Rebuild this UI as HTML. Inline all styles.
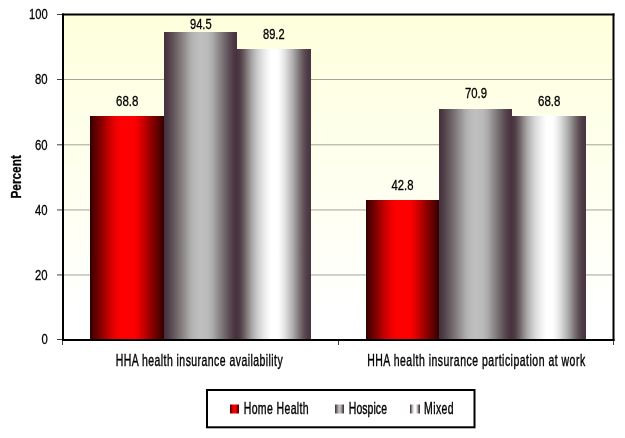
<!DOCTYPE html>
<html><head><meta charset="utf-8">
<style>
html,body{margin:0;padding:0;background:#fff;width:625px;height:438px;overflow:hidden}
svg{display:block;will-change:transform}
text{font-family:"Liberation Sans",sans-serif;fill:#000;stroke:#000}
</style></head>
<body>
<svg width="625" height="438" viewBox="0 0 625 438">
<defs>
<linearGradient id="bg" x1="0" y1="0" x2="0" y2="1">
<stop offset="0" stop-color="#feffdc"/>
<stop offset="0.92" stop-color="#ffffff"/>
</linearGradient>
<linearGradient id="gr" x1="0" y1="0" x2="1" y2="0">
<stop offset="0.000" stop-color="#2a0000"/>
<stop offset="0.040" stop-color="#500000"/>
<stop offset="0.080" stop-color="#600000"/>
<stop offset="0.135" stop-color="#800000"/>
<stop offset="0.190" stop-color="#a00000"/>
<stop offset="0.243" stop-color="#c00000"/>
<stop offset="0.297" stop-color="#d80000"/>
<stop offset="0.350" stop-color="#f00000"/>
<stop offset="0.430" stop-color="#ff0000"/>
<stop offset="0.590" stop-color="#ff0000"/>
<stop offset="0.645" stop-color="#f00000"/>
<stop offset="0.710" stop-color="#d00000"/>
<stop offset="0.800" stop-color="#a00000"/>
<stop offset="0.870" stop-color="#780000"/>
<stop offset="0.935" stop-color="#580000"/>
<stop offset="0.975" stop-color="#400000"/>
<stop offset="1.000" stop-color="#300000"/>
</linearGradient>
<linearGradient id="gg" x1="0" y1="0" x2="1" y2="0">
<stop offset="0.000" stop-color="#46303c"/>
<stop offset="0.030" stop-color="#4a3440"/>
<stop offset="0.060" stop-color="#4e3e48"/>
<stop offset="0.125" stop-color="#605458"/>
<stop offset="0.215" stop-color="#7c7476"/>
<stop offset="0.300" stop-color="#989494"/>
<stop offset="0.360" stop-color="#acacac"/>
<stop offset="0.420" stop-color="#b8b8b8"/>
<stop offset="0.500" stop-color="#bfbfbf"/>
<stop offset="0.600" stop-color="#bababa"/>
<stop offset="0.665" stop-color="#acacac"/>
<stop offset="0.720" stop-color="#989494"/>
<stop offset="0.770" stop-color="#868080"/>
<stop offset="0.845" stop-color="#6c6266"/>
<stop offset="0.900" stop-color="#5a4a52"/>
<stop offset="0.950" stop-color="#4e3a46"/>
<stop offset="1.000" stop-color="#48303c"/>
</linearGradient>
<linearGradient id="gw" x1="0" y1="0" x2="1" y2="0">
<stop offset="0.000" stop-color="#48343f"/>
<stop offset="0.040" stop-color="#4e3c46"/>
<stop offset="0.100" stop-color="#6c6064"/>
<stop offset="0.150" stop-color="#8c8484"/>
<stop offset="0.200" stop-color="#a8a6a6"/>
<stop offset="0.260" stop-color="#c4c4c4"/>
<stop offset="0.310" stop-color="#d8d8d8"/>
<stop offset="0.370" stop-color="#eaeaea"/>
<stop offset="0.420" stop-color="#f6f6f6"/>
<stop offset="0.460" stop-color="#ffffff"/>
<stop offset="0.550" stop-color="#ffffff"/>
<stop offset="0.600" stop-color="#f2f2f2"/>
<stop offset="0.650" stop-color="#e0e0e0"/>
<stop offset="0.700" stop-color="#c8c8c8"/>
<stop offset="0.750" stop-color="#b0b0b0"/>
<stop offset="0.800" stop-color="#949090"/>
<stop offset="0.850" stop-color="#787070"/>
<stop offset="0.900" stop-color="#605058"/>
<stop offset="0.950" stop-color="#4e3c46"/>
<stop offset="1.000" stop-color="#48343f"/>
</linearGradient>
</defs>
<rect x="63" y="14" width="550" height="326" fill="url(#bg)"/>
<g fill="#a4a498">
<rect x="64" y="79" width="548" height="1"/>
<rect x="64" y="144.3" width="548" height="1"/>
<rect x="64" y="209.45" width="548" height="1"/>
<rect x="64" y="274.45" width="548" height="1"/>
</g>
<rect x="90" y="116" width="74" height="224" fill="url(#gr)"/>
<rect x="164" y="32" width="73" height="308" fill="url(#gg)"/>
<rect x="237" y="49" width="74" height="291" fill="url(#gw)"/>
<rect x="366" y="200" width="73" height="140" fill="url(#gr)"/>
<rect x="439" y="109" width="73" height="231" fill="url(#gg)"/>
<rect x="512" y="116" width="74" height="224" fill="url(#gw)"/>
<g fill="#000"><rect x="62" y="13.5" width="552.5" height="2"/><rect x="62" y="339" width="552.5" height="2"/><rect x="62" y="13.5" width="2" height="327.5"/><rect x="612.5" y="13.5" width="2" height="327.5"/></g>
<g fill="#404040">
<rect x="57" y="14" width="5" height="1"/>
<rect x="57" y="79" width="5" height="1"/>
<rect x="57" y="144.3" width="5" height="1"/>
<rect x="57" y="209.45" width="5" height="1"/>
<rect x="57" y="274.45" width="5" height="1"/>
<rect x="57" y="339" width="5" height="1"/>
<rect x="62" y="341" width="1" height="4"/>
<rect x="338" y="341" width="1" height="4"/>
<rect x="613" y="341" width="1" height="4"/>
</g>
<text x="29" y="19.3" font-size="14.5" style="stroke-width:0.3px" textLength="18.6" lengthAdjust="spacingAndGlyphs">100</text>
<text x="35" y="84.4" font-size="14.5" style="stroke-width:0.3px" textLength="12.6" lengthAdjust="spacingAndGlyphs">80</text>
<text x="35" y="149.5" font-size="14.5" style="stroke-width:0.3px" textLength="12.6" lengthAdjust="spacingAndGlyphs">60</text>
<text x="35" y="214.6" font-size="14.5" style="stroke-width:0.3px" textLength="12.6" lengthAdjust="spacingAndGlyphs">40</text>
<text x="35" y="279.6" font-size="14.5" style="stroke-width:0.3px" textLength="12.6" lengthAdjust="spacingAndGlyphs">20</text>
<text x="41.5" y="344.4" font-size="14.5" style="stroke-width:0.3px" textLength="6.3" lengthAdjust="spacingAndGlyphs">0</text>
<text x="116" y="105.6" font-size="14.5" style="stroke-width:0.3px" textLength="22.4" lengthAdjust="spacingAndGlyphs">68.8</text>
<text x="190" y="28.9" font-size="14.5" style="stroke-width:0.3px" textLength="21.6" lengthAdjust="spacingAndGlyphs">94.5</text>
<text x="263" y="38.6" font-size="14.5" style="stroke-width:0.3px" textLength="21.6" lengthAdjust="spacingAndGlyphs">89.2</text>
<text x="391.5" y="189.8" font-size="14.5" style="stroke-width:0.3px" textLength="22" lengthAdjust="spacingAndGlyphs">42.8</text>
<text x="465" y="98.4" font-size="14.5" style="stroke-width:0.3px" textLength="22" lengthAdjust="spacingAndGlyphs">70.9</text>
<text x="538" y="105.6" font-size="14.5" style="stroke-width:0.3px" textLength="22.4" lengthAdjust="spacingAndGlyphs">68.8</text>
<text font-size="15" font-weight="bold" style="stroke-width:0.3px" transform="translate(21.3,198.6) rotate(-90)" x="0" y="0" textLength="43.5" lengthAdjust="spacingAndGlyphs">Percent</text>
<g transform="translate(115.7,365.8) scale(0.66,1)"><text x="0" y="0" font-size="15.9" font-weight="normal" style="stroke-width:0.4px" textLength="253.03" lengthAdjust="spacing">HHA health insurance availability</text></g>
<g transform="translate(367.2,365.8) scale(0.66,1)"><text x="0" y="0" font-size="15.9" font-weight="normal" style="stroke-width:0.4px" textLength="330.30" lengthAdjust="spacing">HHA health insurance participation at work</text></g>
<rect x="207" y="390" width="267.5" height="37.3" fill="#fff" stroke="#000" stroke-width="2"/>
<rect x="230" y="404.5" width="9" height="9" fill="url(#gr)"/>
<rect x="335" y="404.5" width="9" height="9" fill="url(#gg)"/>
<rect x="410" y="404.5" width="10" height="9" fill="url(#gw)"/>
<g transform="translate(243.7,413.7) scale(0.66,1)"><text x="0" y="0" font-size="15.9" font-weight="normal" style="stroke-width:0.4px" textLength="98.48" lengthAdjust="spacing">Home Health</text></g>
<g transform="translate(348.8,413.7) scale(0.66,1)"><text x="0" y="0" font-size="15.9" font-weight="normal" style="stroke-width:0.4px" textLength="57.88" lengthAdjust="spacing">Hospice</text></g>
<g transform="translate(424,413.7) scale(0.66,1)"><text x="0" y="0" font-size="15.9" font-weight="normal" style="stroke-width:0.4px" textLength="45.00" lengthAdjust="spacing">Mixed</text></g>
</svg>
</body></html>
